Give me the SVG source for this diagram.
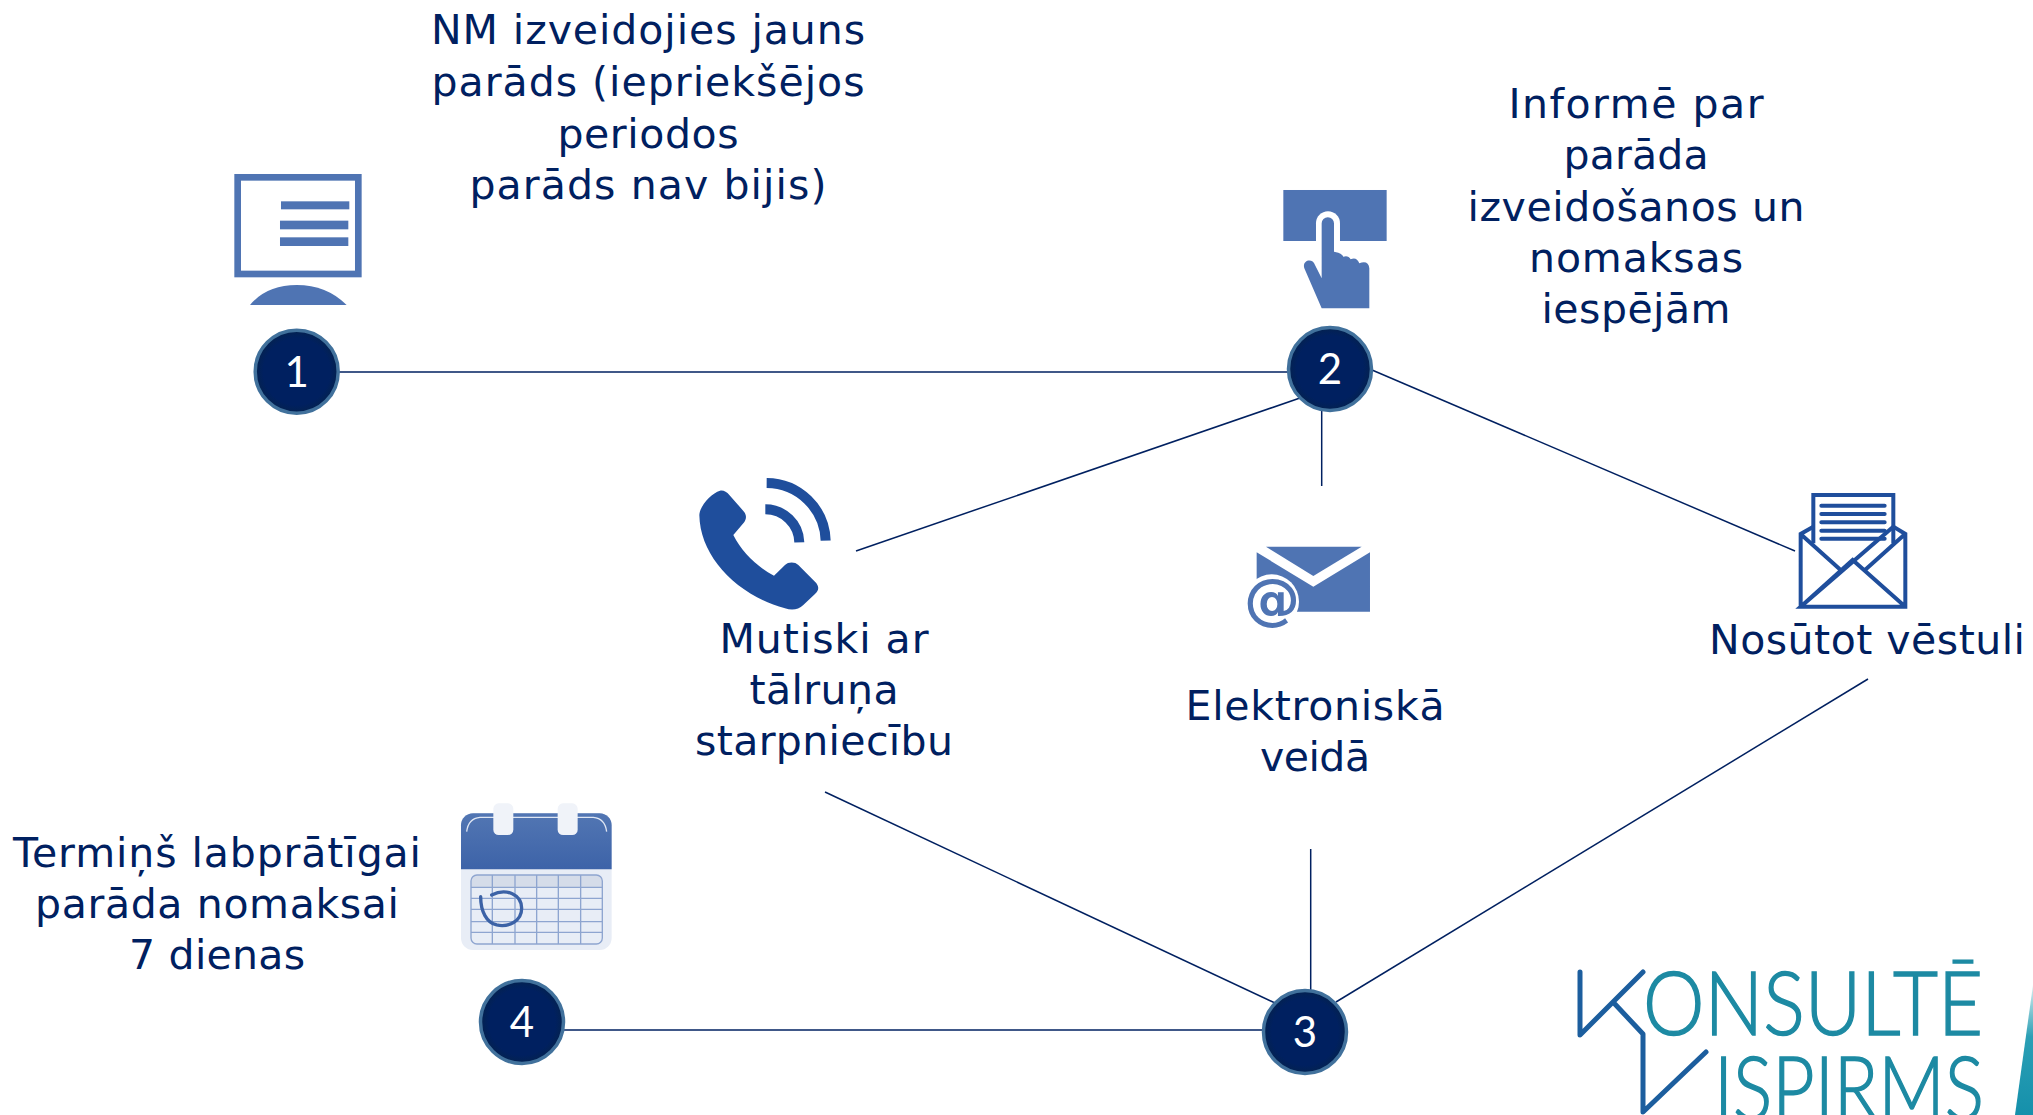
<svg xmlns="http://www.w3.org/2000/svg" width="2033" height="1115" viewBox="0 0 2033 1115">
<defs>
<radialGradient id="disc" cx="50%" cy="50%" r="50%"><stop offset="0.8" stop-color="#002060"/><stop offset="1" stop-color="#04224f"/></radialGradient>
<linearGradient id="calTop" x1="0" y1="0" x2="0" y2="1"><stop offset="0" stop-color="#5276b3"/><stop offset="1" stop-color="#3d63a8"/></linearGradient>
<linearGradient id="swoosh" x1="0" y1="0" x2="0" y2="1"><stop offset="0" stop-color="#d8eef0"/><stop offset="0.4" stop-color="#2a9fb5"/><stop offset="1" stop-color="#1590ab"/></linearGradient>
</defs>
<style>
.lbl{font-family:"DejaVu Sans",Verdana,sans-serif;font-size:41px;fill:#002060;text-anchor:middle}
.num{font-family:Lato,"Open Sans",sans-serif;font-size:42px;fill:#fff;text-anchor:middle}
.disc{fill:url(#disc);stroke:#41719c;stroke-width:3.5}
.conn{stroke:#002060;stroke-width:1.5;fill:none}
.ico{fill:#4f74b3}
.ph{fill:#1f4e9c}
.logo{font-family:Lato,"Open Sans",sans-serif;font-weight:300;font-size:88px;fill:#1d8aa3;stroke:#1d8aa3;stroke-width:1.5}
</style>
<g id="connectors">
<line class="conn" x1="339" y1="372" x2="1290" y2="372"/>
<line class="conn" x1="1300" y1="398" x2="856" y2="551"/>
<line class="conn" x1="1321.7" y1="410" x2="1321.7" y2="486"/>
<line class="conn" x1="1372" y1="370" x2="1795" y2="551"/>
<line class="conn" x1="825" y1="792" x2="1275" y2="1003"/>
<line class="conn" x1="1310.7" y1="849" x2="1310.7" y2="995"/>
<line class="conn" x1="1868" y1="679" x2="1336" y2="1002"/>
<line class="conn" x1="564" y1="1030" x2="1268" y2="1030"/>
</g>
<g id="text-new-debt">
<text class="lbl" x="648" y="44" textLength="434">NM izveidojies jauns</text>
<text class="lbl" x="648" y="96" textLength="433">parāds (iepriekšējos</text>
<text class="lbl" x="648" y="148" textLength="181">periodos</text>
<text class="lbl" x="648" y="199" textLength="357">parāds nav bijis)</text>
</g>
<g id="node-1">
<g transform="translate(200,150) scale(0.3333)">
<rect x="113" y="82" width="362" height="290" fill="#fff" stroke="#4f74b3" stroke-width="20"/>
<rect class="ico" x="243" y="154" width="205" height="24"/>
<rect class="ico" x="240" y="212" width="205" height="26"/>
<rect class="ico" x="240" y="262" width="205" height="26"/>
<path class="ico" d="M150 465Q200 405 290 405T440 465Z"/>
</g>
<circle class="disc" cx="296.700" cy="371.700" r="41.500"/>
<text class="num" x="296.700" y="387">1</text>
</g>
<g id="node-2">
<g transform="translate(1260,170) scale(0.3333)">
<rect class="ico" x="70" y="60" width="310" height="153"/>
<path d="M168 213V160a36 36 0 0 1 72 0V213Z" fill="#fff"/>
<path class="ico" d="M185 160a18.500 18.500 0 0 1 37 0V245L235 248Q245 250 250 260Q265 255 272 268Q290 260 298 280Q325 270 328 295V415H185L133 295C125 270 158 262 165 285L185 325Z"/>
</g>
<circle class="disc" cx="1330" cy="369" r="41.500"/>
<text class="num" x="1330" y="384">2</text>
</g>
<g id="text-inform">
<text class="lbl" x="1636" y="118" textLength="255">Informē par</text>
<text class="lbl" x="1636" y="169" textLength="145">parāda</text>
<text class="lbl" x="1636" y="221" textLength="337">izveidošanos un</text>
<text class="lbl" x="1636" y="272" textLength="214">nomaksas</text>
<text class="lbl" x="1636" y="323" textLength="189">iespējām</text>
</g>
<g id="node-phone">
<g transform="translate(680,460) scale(0.3333)">
<path class="ph" d="M58 165C60 135 95 100 120 92C130 90 140 95 148 105L192 155C202 168 198 180 190 190L160 225C185 275 230 320 282 347L315 315C325 305 345 305 355 315L405 365C418 378 418 390 405 402L370 435C355 450 335 452 315 445C170 405 60 290 58 165Z"/>
<path d="M260 69A178 178 0 0 1 437 242" fill="none" stroke="#1f4e9c" stroke-width="30"/>
<path d="M256 148A102 102 0 0 1 358 247" fill="none" stroke="#1f4e9c" stroke-width="30"/>
</g>
<text class="lbl" x="824" y="653" textLength="209">Mutiski ar</text>
<text class="lbl" x="824" y="704" textLength="149">tālruņa</text>
<text class="lbl" x="824" y="755" textLength="258">starpniecību</text>
</g>
<g id="node-email">
<g transform="translate(1230,520) scale(0.3333)">
<path class="ico" d="M108 80H395L250 168Z"/>
<path class="ico" d="M80 97L250 200L420 97V275H80Z"/>
<circle cx="125" cy="245" r="82" fill="#fff"/>
</g>
<text x="1272" y="618" font-family="DejaVu Sans,sans-serif" font-size="56" font-weight="bold" text-anchor="middle" fill="#4f74b3">@</text>
<text class="lbl" x="1315" y="720" textLength="259">Elektroniskā</text>
<text class="lbl" x="1315" y="771" textLength="110">veidā</text>
</g>
<g id="node-letter">
<g transform="translate(1780,480) scale(0.3333)" fill="none" stroke="#1f4e9c" stroke-width="12">
<path d="M100 190V45H340V190"/>
<path d="M62 380V162L100 140M340 140L376 162V380H62ZM62 380L218 240L376 380M65 165L182 270M372 165L255 270"/>
<path d="M124 77H314M124 102H314M124 127H314M124 152H314M124 176H314" stroke-linecap="round"/>
</g>
<text class="lbl" x="1867" y="654" textLength="316">Nosūtot vēstuli</text>
</g>
<g id="node-3">
<circle class="disc" cx="1305" cy="1032" r="41.500"/>
<text class="num" x="1305" y="1047">3</text>
</g>
<g id="node-4">
<g transform="translate(450,800) scale(0.3333)">
<rect x="33" y="40" width="452" height="410" rx="36" fill="#e8edf6"/>
<path d="M33 208V76a36 36 0 0 1 36-36H449a36 36 0 0 1 36 36V208Z" fill="url(#calTop)"/>
<path d="M50 95Q55 55 90 52H430Q465 55 470 95" fill="none" stroke="#dfe6f3" stroke-width="4"/>
<rect x="130" y="10" width="60" height="95" rx="16" fill="#f0f3f9"/>
<rect x="323" y="10" width="60" height="95" rx="16" fill="#f0f3f9"/>
<path d="M63 262V243a18 18 0 0 1 18-18H439a18 18 0 0 1 18 18V262Z" fill="#d5dce9"/>
<rect x="63" y="225" width="394" height="207" rx="18" fill="none" stroke="#8ea5d0" stroke-width="4"/>
<path d="M127 225V432M195 225V432M260 225V432M325 225V432M392 225V432M63 262H457M63 295H457M63 328H457M63 365H457M63 397H457" stroke="#8ea5d0" stroke-width="4" fill="none"/>
<path d="M125 285C170 262 215 285 215 325C215 365 175 382 140 375C110 368 92 335 92 290" fill="none" stroke="#3c62a6" stroke-width="10" stroke-linecap="round"/>
</g>
<circle class="disc" cx="522" cy="1022" r="41.500"/>
<text class="num" x="522" y="1037">4</text>
<text class="lbl" x="217" y="867" textLength="408">Termiņš labprātīgai</text>
<text class="lbl" x="217" y="918" textLength="364">parāda nomaksai</text>
<text class="lbl" x="217" y="969" textLength="176">7 dienas</text>
</g>
<g id="logo">
<path d="M1580 972V1035L1643 972M1613 1002L1643 1034V1112L1706 1052" fill="none" stroke="#1c5e9e" stroke-width="5" stroke-linecap="round" stroke-linejoin="round"/>
<text class="logo" x="1643" y="1035" textLength="340" lengthAdjust="spacingAndGlyphs">ONSULTĒ</text>
<text class="logo" x="1714" y="1120" textLength="270" lengthAdjust="spacingAndGlyphs">ISPIRMS</text>
<path d="M2033 985L2015 1115H2033Z" fill="url(#swoosh)"/>
</g>
</svg>
